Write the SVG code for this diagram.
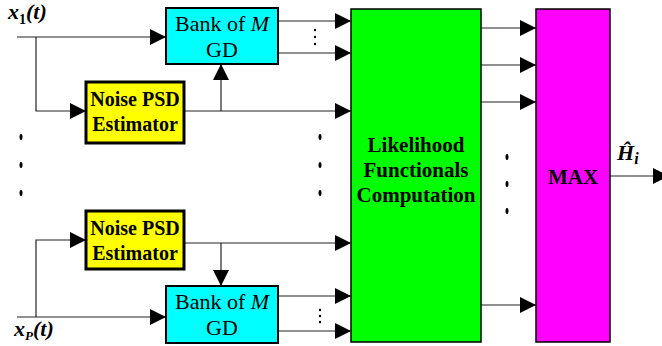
<svg xmlns="http://www.w3.org/2000/svg" width="662" height="346" viewBox="0 0 662 346">
<style>
.conn path{fill:none;stroke:#222;stroke-width:1.2}
.bank{fill:#00FFFF;stroke:#000;stroke-width:2}
.noise{fill:#FFFF00;stroke:#000;stroke-width:3}
.t{text-anchor:middle;fill:#000}
.tb{text-anchor:middle;font-weight:bold;fill:#000}
.lbl{font-weight:bold;font-style:italic;fill:#000}
.dot{fill:#000}
</style>
<defs>
<marker id="ah" markerUnits="userSpaceOnUse" markerWidth="17" markerHeight="16" refX="16" refY="8" orient="auto">
<path d="M0,0 L16,8 L0,16 z" fill="#000"/>
</marker>
</defs>
<rect width="662" height="346" fill="#fff"/>
<g class="conn">
<path d="M17,37 H166" marker-end="url(#ah)"/>
<path d="M36,37 V111 H86" marker-end="url(#ah)"/>
<path d="M184,111 H351" marker-end="url(#ah)"/>
<path d="M221,111 V64" marker-end="url(#ah)"/>
<path d="M278,21 H351" marker-end="url(#ah)"/>
<path d="M278,53 H351" marker-end="url(#ah)"/>
<path d="M17,317 H166" marker-end="url(#ah)"/>
<path d="M36,317 V240 H86" marker-end="url(#ah)"/>
<path d="M184,243 H351" marker-end="url(#ah)"/>
<path d="M221,243 V286" marker-end="url(#ah)"/>
<path d="M278,296 H351" marker-end="url(#ah)"/>
<path d="M278,331 H351" marker-end="url(#ah)"/>
<path d="M481,28 H536" marker-end="url(#ah)"/>
<path d="M481,65 H536" marker-end="url(#ah)"/>
<path d="M481,102 H536" marker-end="url(#ah)"/>
<path d="M481,305 H536" marker-end="url(#ah)"/>
<path d="M610,176 H669" marker-end="url(#ah)"/>
</g>
<g font-family="Liberation Serif, serif">
<g id="bank1">
<rect class="bank" x="166" y="8" width="112" height="56"/>
<text class="t" x="222" y="31" font-size="22" font-family="Liberation Serif, serif">Bank of <tspan font-style="italic">M</tspan></text>
<text class="t" x="222" y="57" font-size="22" font-family="Liberation Serif, serif">GD</text>
</g>
<g id="noise1">
<rect class="noise" x="86" y="82" width="98" height="61"/>
<text class="tb" x="135" y="106" font-size="20" font-family="Liberation Serif, serif">Noise PSD</text>
<text class="tb" x="135" y="131" font-size="20" font-family="Liberation Serif, serif">Estimator</text>
</g>
<g id="noise2">
<rect class="noise" x="86" y="211" width="98" height="58"/>
<text class="tb" x="135" y="235" font-size="20" font-family="Liberation Serif, serif">Noise PSD</text>
<text class="tb" x="135" y="260" font-size="20" font-family="Liberation Serif, serif">Estimator</text>
</g>
<g id="bank2">
<rect class="bank" x="166" y="286" width="112" height="57"/>
<text class="t" x="222" y="309" font-size="22" font-family="Liberation Serif, serif">Bank of <tspan font-style="italic">M</tspan></text>
<text class="t" x="222" y="335" font-size="22" font-family="Liberation Serif, serif">GD</text>
</g>
<g id="likelihood">
<rect x="351" y="9" width="130" height="333" fill="#00FF00" stroke="#000" stroke-width="1.5"/>
<text class="tb" x="416" y="152" font-size="21" font-family="Liberation Serif, serif">Likelihood</text>
<text class="tb" x="416" y="177" font-size="21" font-family="Liberation Serif, serif">Functionals</text>
<text class="tb" x="416" y="202" font-size="21" font-family="Liberation Serif, serif">Computation</text>
</g>
<g id="max">
<rect x="536" y="9" width="74" height="333" fill="#FF00FF" stroke="#000" stroke-width="1.5"/>
<text class="tb" x="573" y="184" font-size="21" font-family="Liberation Serif, serif">MAX</text>
</g>
<g id="labels">
<text class="lbl" x="8" y="19" font-size="22" font-family="Liberation Serif, serif">x<tspan font-size="14" font-style="normal" dy="5">1</tspan><tspan dy="-5">(t)</tspan></text>
<text class="lbl" x="14" y="336" font-size="22" font-family="Liberation Serif, serif">x<tspan font-size="13" dy="4">P</tspan><tspan dy="-4">(t)</tspan></text>
<text class="lbl" x="617" y="160" font-size="22" font-family="Liberation Serif, serif">Ĥ<tspan font-size="16" dy="4">i</tspan></text>
</g>
</g>
<g id="dots">
<ellipse class="dot" cx="21" cy="137" rx="1.5" ry="3"/>
<ellipse class="dot" cx="21" cy="165" rx="1.5" ry="3"/>
<ellipse class="dot" cx="21" cy="193" rx="1.5" ry="3"/>
<ellipse class="dot" cx="320" cy="137" rx="1.5" ry="3"/>
<ellipse class="dot" cx="320" cy="165" rx="1.5" ry="3"/>
<ellipse class="dot" cx="320" cy="193" rx="1.5" ry="3"/>
<ellipse class="dot" cx="507" cy="157" rx="1.5" ry="3"/>
<ellipse class="dot" cx="507" cy="184" rx="1.5" ry="3"/>
<ellipse class="dot" cx="507" cy="211" rx="1.5" ry="3"/>
<circle class="dot" cx="315" cy="30" r="1.2"/>
<circle class="dot" cx="315" cy="37" r="1.2"/>
<circle class="dot" cx="315" cy="44" r="1.2"/>
<circle class="dot" cx="320" cy="310" r="1.2"/>
<circle class="dot" cx="320" cy="316" r="1.2"/>
<circle class="dot" cx="320" cy="322" r="1.2"/>
</g>
</svg>
